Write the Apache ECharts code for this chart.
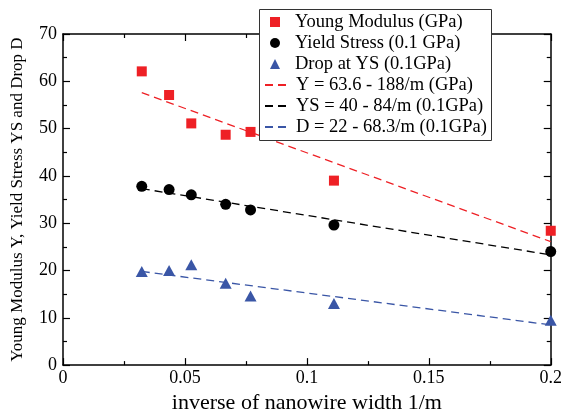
<!DOCTYPE html>
<html>
<head>
<meta charset="utf-8">
<script src="https://cdn.jsdelivr.net/npm/echarts@6/dist/echarts.min.js"></script>
<style>
html,body{margin:0;padding:0;background:#fff;}
#c{width:565px;height:419px;}
</style>
</head>
<body>
<div id="c"></div>
<script>
// ---- data ----
var xVals = [0.0323, 0.0435, 0.0526, 0.0667, 0.0769, 0.1111, 0.2];
var youngModulus = [62.1, 57.1, 51.1, 48.7, 49.3, 39.0, 28.4];
var yieldStress = [37.8, 37.1, 36.0, 34.0, 32.8, 29.6, 24.0];
var dropAtYS = [19.8, 20.0, 21.2, 17.3, 14.6, 13.0, 9.5];
var fitX = [0.0323, 0.2];
var fitY = [57.6, 26.1];
var fitYS = [37.3, 23.3];
var fitD = [19.8, 8.5];
var xTickLabels = ['0', '0.05', '0.1', '0.15', '0.2'];
var yTickLabels = ['0', '10', '20', '30', '40', '50', '60', '70'];
var pointNames = ['Young Modulus (GPa)', 'Yield Stress (0.1 GPa)', 'Drop at YS (0.1GPa)'];
var fitNames = ['Y = 63.6 - 188/m (GPa)', 'YS = 40 - 84/m (0.1GPa)', 'D = 22 - 68.3/m (0.1GPa)'];

function pairs(xs, ys) { return xs.map(function (x, i) { return [x, ys[i]]; }); }

var RED = '#ee2025', BLACK = '#000000', BLUE = '#3a56a6';
var FONT = '"Liberation Serif", "Times New Roman", serif';

var chart = echarts.init(document.getElementById('c'), null, {renderer: 'canvas'});

function xAxisBase(pos, showLabel) {
  return {
    type: 'value', position: pos, min: 0, max: 0.2, interval: 0.05,
    axisLine: {show: true, onZero: false, lineStyle: {color: '#000', width: 1.5}},
    axisTick: {show: true, inside: true, length: 7, lineStyle: {color: '#000', width: 1.2}},
    minorTick: {show: true, splitNumber: 2, length: 4, lineStyle: {color: '#000', width: 1.2}},
    splitLine: {show: false}, minorSplitLine: {show: false},
    axisLabel: {show: showLabel, margin: 4, color: '#000', fontFamily: FONT, fontSize: 18,
      formatter: function (v) { var i = Math.round(v / 0.05); return xTickLabels[i]; }}
  };
}
function yAxisBase(pos, showLabel) {
  return {
    type: 'value', position: pos, min: 0, max: 70, interval: 10,
    axisLine: {show: true, onZero: false, lineStyle: {color: '#000', width: 1.5}},
    axisTick: {show: true, inside: true, length: 7, lineStyle: {color: '#000', width: 1.2}},
    minorTick: {show: true, splitNumber: 2, length: 4, lineStyle: {color: '#000', width: 1.2}},
    splitLine: {show: false}, minorSplitLine: {show: false},
    axisLabel: {show: showLabel, margin: 6, color: '#000', fontFamily: FONT, fontSize: 18,
      formatter: function (v) { var i = Math.round(v / 10); return yTickLabels[i]; }}
  };
}

var xb = xAxisBase('bottom', true);
xb.name = 'inverse of nanowire width 1/m';
xb.nameLocation = 'middle';
xb.nameGap = 15;
xb.nameTextStyle = {color: '#000', fontFamily: FONT, fontSize: 22};
var xt = xAxisBase('top', false);

var yl = yAxisBase('left', true);
yl.name = 'Young Modulus Y, Yield Stress YS and Drop D';
yl.nameLocation = 'middle';
yl.nameGap = 37;
yl.nameTextStyle = {color: '#000', fontFamily: FONT, fontSize: 17};
var yr = yAxisBase('right', false);

var legendText = {color: '#000', fontFamily: FONT, fontSize: 18.5, lineHeight: 20};

var option = {
  backgroundColor: '#fff',
  animation: false,
  grid: {left: 63, right: 12, top: 34, bottom: 42, containLabel: false},
  xAxis: [xb, xt],
  yAxis: [yl, yr],
  graphic: [{
    type: 'rect', z: 4, left: 259, top: 9,
    shape: {width: 232, height: 131},
    style: {fill: '#fff', stroke: '#333', lineWidth: 1}
  }],
  legend: [{
    data: pointNames,
    orient: 'vertical', left: 259, top: 9, z: 5,
    padding: [3, 8, 3, 11],
    itemGap: 1, itemWidth: 10, itemHeight: 10,
    textStyle: Object.assign({padding: [0, 0, 0, 10]}, legendText)
  }, {
    data: fitNames.map(function (n) { return {name: n, itemStyle: {opacity: 0}}; }),
    orient: 'vertical', left: 259, top: 72, z: 5,
    padding: [3, 8, 3, 5],
    itemGap: 1, itemWidth: 22, itemHeight: 10,
    textStyle: Object.assign({padding: [0, 0, 0, 4]}, legendText)
  }],
  series: [
    {name: fitNames[0], type: 'line', data: pairs(fitX, fitY),
      symbol: 'none', z: 2, lineStyle: {color: RED, width: 1.3, type: [8, 5]}, itemStyle: {color: RED}},
    {name: fitNames[1], type: 'line', data: pairs(fitX, fitYS),
      symbol: 'none', z: 2, lineStyle: {color: BLACK, width: 1.3, type: [8, 5]}, itemStyle: {color: BLACK}},
    {name: fitNames[2], type: 'line', data: pairs(fitX, fitD),
      symbol: 'none', z: 2, lineStyle: {color: BLUE, width: 1.3, type: [8, 5]}, itemStyle: {color: BLUE}},
    {name: pointNames[0], type: 'scatter', data: pairs(xVals, youngModulus), symbol: 'rect',
      symbolSize: 10, z: 3, clip: false, itemStyle: {color: RED, opacity: 1}},
    {name: pointNames[1], type: 'scatter', data: pairs(xVals, yieldStress), symbol: 'circle',
      symbolSize: 11, z: 3, clip: false, itemStyle: {color: BLACK, opacity: 1}},
    {name: pointNames[2], type: 'scatter', data: pairs(xVals, dropAtYS), symbol: 'triangle',
      symbolSize: [12, 11], z: 3, clip: false, itemStyle: {color: BLUE, opacity: 1}}
  ]
};
chart.setOption(option);
</script>
</body>
</html>
